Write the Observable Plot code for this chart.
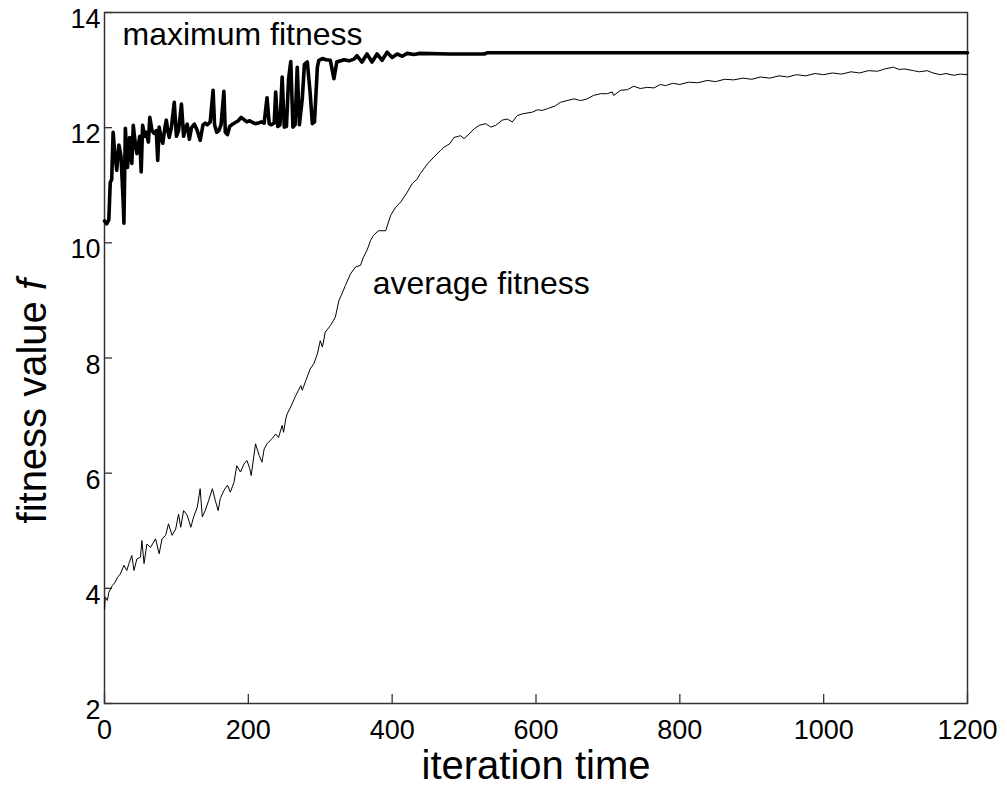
<!DOCTYPE html>
<html><head><meta charset="utf-8">
<script src="https://cdn.jsdelivr.net/npm/d3@7"></script>
<script src="https://cdn.jsdelivr.net/npm/@observablehq/plot@0.6"></script>
<style>
body{margin:0;background:#fff;}
svg{font-family:"Liberation Sans",Arial,sans-serif;}
</style>
</head><body><div id="chart"></div>
<script>
// maximum fitness (iteration, value)
const maxIter = [0,3,6,8,10,12,14,17,20,23,26,27,29,32,35,38,40,43,45,49,51,53,56,58,61,63,66,69,72,74,76,79,81,84,86,88,90,93,97,100,103,107,110,113,115,118,121,125,129,133,137,140,143,147,151,153,156,159,162,166,168,171,174,178,182,186,190,194,198,202,206,210,214,218,222,226,229,232,236,238,241,244,247,250,253,256,259,262,265,268,271,275,278,282,286,289,292,296,298,303,308,314,319,323,333,340,347,351,358,365,372,379,386,393,400,407,414,421,430,439,480,528,532,800,1200];
const maxFit  = [10.38,10.33,10.40,11.05,11.10,11.92,11.60,11.26,11.70,11.50,10.70,10.34,11.99,11.31,11.83,11.38,12.04,11.70,11.55,11.85,11.23,12.04,11.85,11.92,11.75,12.18,11.95,11.90,11.95,11.43,12.01,11.80,11.73,12.00,12.13,11.95,11.83,12.00,12.44,11.85,11.95,12.41,11.85,12.00,12.06,11.80,12.00,12.06,11.95,11.78,12.05,12.08,12.05,12.10,12.65,12.05,11.92,11.95,12.05,12.63,11.92,11.88,12.02,12.06,12.09,12.12,12.18,12.14,12.10,12.12,12.09,12.07,12.08,12.10,12.08,12.52,12.07,12.05,12.08,12.62,12.02,12.05,12.88,12.01,12.02,12.85,13.15,12.01,12.05,13.05,12.05,12.50,13.10,13.14,12.60,12.07,12.10,13.05,13.17,13.20,13.18,13.17,12.85,13.14,13.18,13.16,13.19,13.25,13.14,13.28,13.14,13.28,13.17,13.31,13.22,13.28,13.24,13.29,13.27,13.29,13.28,13.28,13.30,13.30,13.30];

// average fitness (iteration, value)
const avgIter = [0,1,4,6,11,15,18,22,27,31,34,38,41,45,50,52,55,59,64,71,76,80,85,89,94,99,103,106,110,115,120,124,129,133,136,140,145,150,154,158,161,166,171,175,180,184,189,194,198,202,204,210,215,219,222,226,233,238,242,247,249,252,254,259,266,273,275,280,286,291,296,300,303,307,314,321,326,330,335,342,349,356,360,365,370,374,381,391,398,405,412,421,428,435,439,449,458,467,472,480,486,495,500,507,514,521,530,537,544,553,560,567,574,581,595,602,609,616,627,634,643,653,662,671,680,690,699,706,708,718,727,736,745,755,764,773,780,790,800,812,825,838,850,862,875,888,900,912,925,938,950,962,975,988,1000,1012,1025,1038,1050,1062,1075,1085,1097,1105,1112,1125,1133,1144,1152,1162,1170,1181,1190,1200];
const avgFit  = [3.64,3.85,3.79,3.93,4.05,4.11,4.19,4.25,4.40,4.31,4.43,4.57,4.31,4.51,4.54,4.83,4.43,4.77,4.71,4.86,4.60,4.86,4.92,5.12,4.92,5.03,5.29,5.06,5.35,5.27,5.06,5.24,5.41,5.73,5.24,5.35,5.53,5.73,5.53,5.35,5.56,5.70,5.79,5.67,5.84,6.13,6.02,6.16,6.22,6.08,5.96,6.51,6.31,6.19,6.42,6.51,6.60,6.68,6.62,6.83,6.71,6.94,7.03,7.15,7.35,7.52,7.44,7.61,7.81,7.90,8.07,8.30,8.19,8.45,8.56,8.71,9.00,9.11,9.26,9.46,9.58,9.61,9.75,9.87,10.04,10.13,10.21,10.21,10.48,10.62,10.71,10.88,11.03,11.11,11.20,11.37,11.49,11.60,11.66,11.72,11.83,11.86,11.81,11.89,11.98,12.04,12.07,12.01,12.04,12.13,12.15,12.10,12.21,12.24,12.27,12.31,12.30,12.33,12.38,12.44,12.47,12.50,12.47,12.50,12.56,12.59,12.59,12.62,12.56,12.65,12.66,12.72,12.68,12.70,12.69,12.75,12.73,12.77,12.75,12.79,12.78,12.82,12.80,12.84,12.83,12.86,12.84,12.88,12.86,12.90,12.88,12.92,12.90,12.94,12.92,12.95,12.93,12.97,12.95,12.99,12.98,13.02,13.05,13.01,13.02,12.99,12.97,12.99,12.95,12.92,12.94,12.91,12.93,12.92];

const xTicks = [0,200,400,600,800,1000,1200];
const yTicks = [2,4,6,8,10,12,14];

const noteText = ["maximum fitness","average fitness"];
const noteX = [25, 373];
const noteY = [13.43, 9.12];

const xTitle = "iteration time";
const yTitle = "fitness value f";
const yTitleX = [-81];   // data-space anchor of the rotated y title
const yTitleY = [7.25];

const maxData = maxIter.map((x,i)=>({x, y:maxFit[i]}));
const avgData = avgIter.map((x,i)=>({x, y:avgFit[i]}));
const notes = noteText.map((t,i)=>({t, x:noteX[i], y:noteY[i]}));
const yTitleData = yTitleX.map((x,i)=>({t:yTitle, x, y:yTitleY[i]}));
const fmt = d => String(d);

const chart = Plot.plot({
  width:1007, height:796,
  marginLeft:104, marginRight:40, marginTop:12, marginBottom:93,
  style:{fontFamily:'"Liberation Sans",Arial,sans-serif', background:"#fff", color:"#000"},
  x:{domain:[0,1200]},
  y:{domain:[2,14]},
  marks:[
    Plot.axisX(xTicks, {tickSize:-9, tickFormat:()=>"", label:null, stroke:"#333", strokeWidth:1.3}),
    Plot.axisX(xTicks, {tickSize:0, tickPadding:16, fontSize:27, tickFormat:fmt, label:null}),
    Plot.axisY(yTicks, {tickSize:-8, tickFormat:()=>"", label:null, stroke:"#333", strokeWidth:1.3}),
    Plot.axisY(yTicks, {tickSize:0, tickPadding:4, dy:7, fontSize:27, tickFormat:fmt, label:null}),
    Plot.frame({stroke:"#333", strokeWidth:1.5}),
    Plot.line(avgData, {x:"x", y:"y", stroke:"#000", strokeWidth:1}),
    Plot.line(maxData, {x:"x", y:"y", stroke:"#000", strokeWidth:3.6, strokeLinejoin:"round"}),
    Plot.text(notes, {x:"x", y:"y", text:"t", textAnchor:"start", lineAnchor:"bottom", fontSize:32, fill:"#000"}),
    Plot.text([xTitle], {frameAnchor:"bottom", dy:75, lineAnchor:"bottom", fontSize:40, fill:"#000"}),
    Plot.text(yTitleData, {x:"x", y:"y", text:"t", rotate:-90, lineAnchor:"bottom", fontSize:40, fill:"#000"})
  ]
});
document.getElementById("chart").appendChild(chart);

// italicize the trailing "f" of the y title
chart.querySelectorAll("text").forEach(t=>{
  if (t.textContent === yTitle) {
    const tgt = t.querySelector("tspan") || t;
    tgt.textContent = "";
    const a = document.createElementNS("http://www.w3.org/2000/svg","tspan");
    a.textContent = "fitness value ";
    const b = document.createElementNS("http://www.w3.org/2000/svg","tspan");
    b.textContent = "f";
    b.setAttribute("font-style","italic");
    tgt.appendChild(a); tgt.appendChild(b);
  }
});
</script>
</body></html>
